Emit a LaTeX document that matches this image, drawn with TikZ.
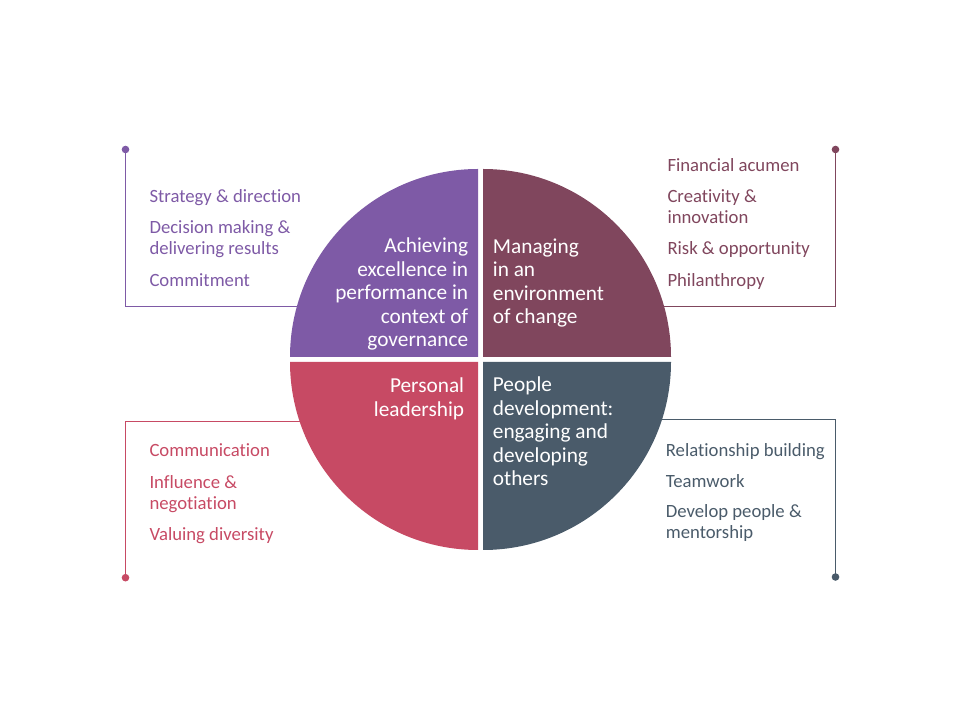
\documentclass[tikz,border=0pt]{standalone}
\usepackage{fontspec}
\setmainfont[Ligatures=NoCommon]{Carlito}

\definecolor{qpurple}{HTML}{7E5AA6}
\definecolor{qmaroon}{HTML}{80465D}
\definecolor{qpink}{HTML}{C74A64}
\definecolor{qslate}{HTML}{4A5B6A}

\tikzset{
  quadtext/.style={text=white, inner sep=0pt, font=\fontsize{21.3}{23.4}\selectfont},
  itemtext/.style={inner sep=0pt, anchor=base west, align=left, font=\fontsize{18.7}{21}\selectfont},
  leader/.style={line width=0.9pt},
}

\begin{document}
\begin{tikzpicture}[x=1pt, y=1pt] % one unit is one pixel of the slide
        % (a multi-line node sits on the baseline of its last line)

        \useasboundingbox (0,0) rectangle (960,720);

        % Leader lines (the inner end hides behind the quadrants)
        \coordinate (pdot) at (125.5,570.5);
        \coordinate (pend) at (478,413.3);
        \coordinate (mdot) at (835.5,570.5);
        \coordinate (mend) at (483,413.3);
        \coordinate (rdot) at (125.5,142.3);
        \coordinate (rend) at (478,298.3);
        \coordinate (sdot) at (835.5,143);
        \coordinate (send) at (483,300.7);

        \draw[leader, qpurple] (pdot) |- (pend);
        \draw[leader, qmaroon] (mdot) |- (mend);
        \draw[leader, qpink] (rdot) |- (rend);
        \draw[leader, qslate] (sdot) |- (send);

        \fill[qpurple] (pdot) circle[radius=3.8];
        \fill[qmaroon] (mdot) circle[radius=3.8];
        \fill[qpink] (rdot) circle[radius=3.8];
        \fill[qslate] (sdot) circle[radius=3.8];

        % Quadrants
        \fill[qpurple] (478,363) -- (290,363) arc[start angle=180, end angle=90, radius=188] -- cycle;
        \fill[qmaroon] (483,363) -- (483,551) arc[start angle=90, end angle=0, radius=188] -- cycle;
        \fill[qpink] (478,358) -- (478,170) arc[start angle=270, end angle=180, radius=188] -- cycle;
        \fill[qslate] (483,358) -- (671,358) arc[start angle=0, end angle=-90, radius=188] -- cycle;

        % Quadrant labels
        \node[quadtext, anchor=base east, align=right] (achieve) at (468.3,373.5)
          {Achieving\\excellence in\\performance in\\context of\\governance};
        \node[quadtext, anchor=base west, align=left] (manage) at (492.7,396.2)
          {Managing\\in an\\environment\\of change};
        \node[quadtext, anchor=base east, align=right] (personal) at (464.3,303.8)
          {Personal\\leadership};
        \node[quadtext, anchor=base west, align=left] (people) at (492.7,234.5)
          {People\\development:\\engaging and\\developing\\others};

        % Items, top left
        \node[itemtext, text=qpurple] (strategy) at (149.3,517.2) {Strategy \& direction};
        \node[itemtext, text=qpurple] (decision) at (149.3,465.2) {Decision making \&\\delivering results};
        \node[itemtext, text=qpurple] (commit) at (149.3,433.8) {Commitment};

        % Items, top right
        \node[itemtext, text=qmaroon] (finance) at (667.3,548.8) {Financial acumen};
        \node[itemtext, text=qmaroon] (create) at (667.3,496.2) {Creativity \&\\innovation};
        \node[itemtext, text=qmaroon] (risk) at (667.3,465.2) {Risk \& opportunity};
        \node[itemtext, text=qmaroon] (phil) at (667.3,433.8) {Philanthropy};

        % Items, bottom left
        \node[itemtext, text=qpink] (comm) at (149.3,263.8) {Communication};
        \node[itemtext, text=qpink] (influence) at (149.3,210.8) {Influence \&\\negotiation};
        \node[itemtext, text=qpink] (diverse) at (149.3,179.5) {Valuing diversity};

        % Items, bottom right
        \node[itemtext, text=qslate] (relation) at (665.7,263.8) {Relationship building};
        \node[itemtext, text=qslate] (team) at (665.7,232.8) {Teamwork};
        \node[itemtext, text=qslate] (develop) at (665.7,181.2) {Develop people \&\\mentorship};

    \end{tikzpicture}
\end{document}
